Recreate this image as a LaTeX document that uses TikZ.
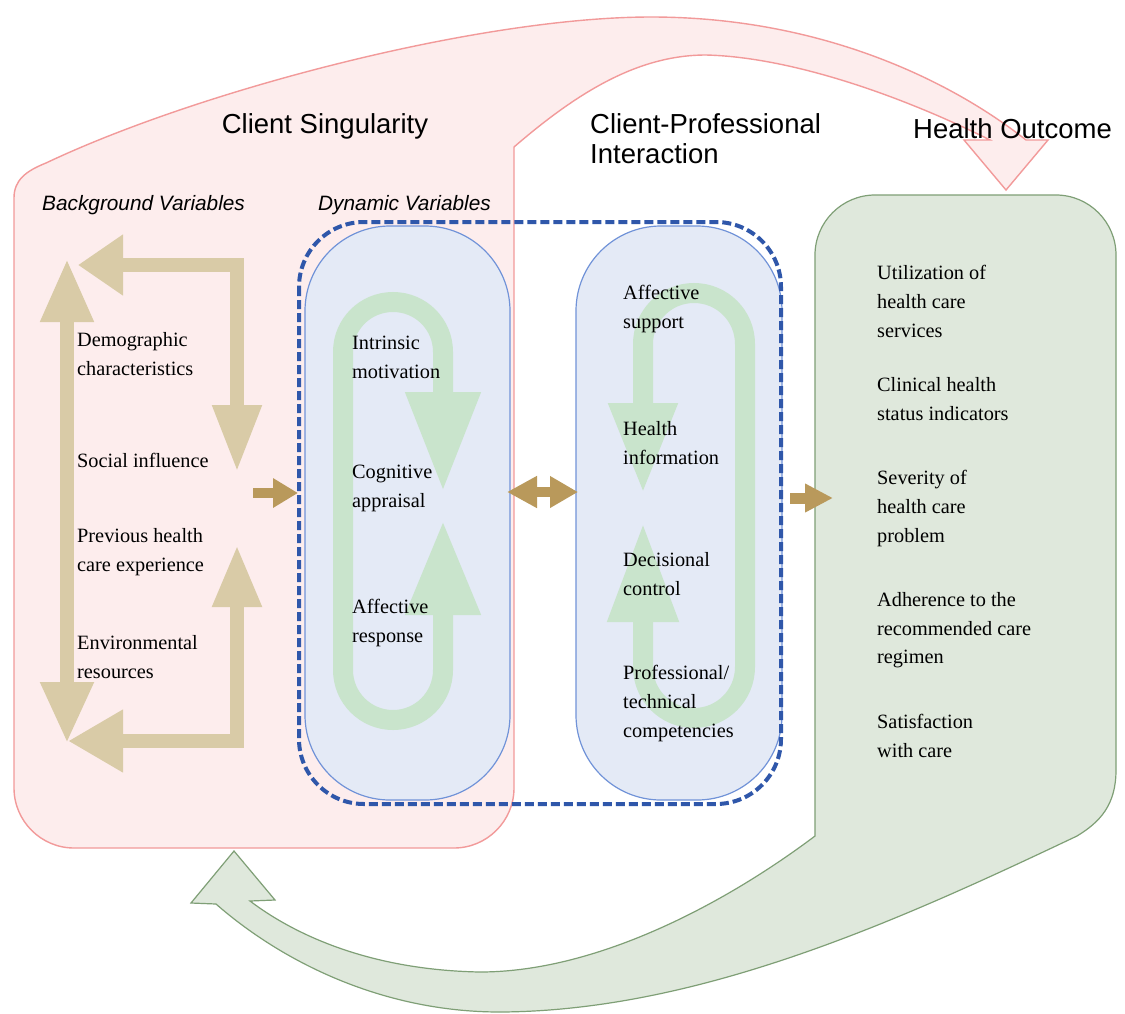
\documentclass[tikz,border=0pt]{standalone}
\usepackage{fontspec}
\setmainfont{Liberation Serif}
\newfontfamily\headfont{Liberation Sans}
\usetikzlibrary{arrows.meta}
\definecolor{pinkfill}{HTML}{FDEDED}
\definecolor{pinkline}{HTML}{F29A9A}
\definecolor{greenfill}{HTML}{DFE8DC}
\definecolor{greenline}{HTML}{7F9F76}
\definecolor{bluefill}{HTML}{E4EAF6}
\definecolor{blueline}{HTML}{7193D8}
\definecolor{dashblue}{HTML}{2F57AA}
\definecolor{tanlight}{HTML}{D9CBA7}
\definecolor{goldtan}{HTML}{B9995B}
\definecolor{loopgreen}{HTML}{C9E4CC}
\tikzset{
  heading/.style={font=\headfont\fontsize{27.5}{30}\selectfont, align=left, inner sep=0pt},
  subhead/.style={font=\headfont\itshape\fontsize{20.8}{24}\selectfont, inner sep=0pt, anchor=north west},
  item/.style={font=\fontsize{20.3}{28.8}\selectfont, align=left, inner sep=0pt, anchor=north west},
  tanarrow/.style={draw=tanlight, line width=14pt, miter limit=10},
  goldarrow/.style={draw=goldtan, line width=10pt},
  greenloop/.style={draw=loopgreen, line width=20pt},
  bluebox/.style={draw=blueline, fill=bluefill, line width=1.2pt, rounded corners=85pt},
}
\begin{document}
\begin{tikzpicture}[x=1pt,y=-1pt]
\useasboundingbox[fill=white] (0,0) rectangle (1125,1013);

% green outcome region with feedback arrow
\path[draw=greenline, fill=greenfill, line width=1.2pt]
 (815,836) -- (815,255) .. controls (815,222) and (842,195) .. (875,195)
 -- (1056,195) .. controls (1089,195) and (1116,222) .. (1116,255)
 -- (1116,770) .. controls (1116,805) and (1100,822) .. (1077,836)
 .. controls (900,920) and (700,1011) .. (500,1012)
 .. controls (380,1012) and (280,960) .. (216,904)
 -- (191,903) -- (234,851) -- (275,900) -- (250,901)
 .. controls (295,935) and (370,970) .. (480,972)
 .. controls (600,972) and (730,900) .. (815,836) -- cycle;

% pink client singularity region with arrow
\path[draw=pinkline, fill=pinkfill, line width=1.4pt]
 (14,788) -- (14,198) .. controls (14,180) and (26,171) .. (46,163)
 .. controls (200,90) and (480,17) .. (651,17)
 .. controls (820,17) and (950,80) .. (1026,140)
 -- (1048,140) -- (1006,190) -- (964,140) -- (990,140)
 .. controls (900,95) and (790,57) .. (706,55)
 .. controls (640,55) and (580,90) .. (514,147)
 -- (514,788) .. controls (514,821) and (487,848) .. (454,848)
 -- (74,848) .. controls (41,848) and (14,821) .. (14,788) -- cycle;

% blue boxes
\draw[bluebox] (305,226) rectangle (510,800);
\draw[bluebox] (576,226) rectangle (782,800);
\draw[draw=dashblue, line width=4pt, dash pattern=on 9pt off 4pt, rounded corners=65pt] (299,222) rectangle (781,804);

% green loops
\coordinate (la) at (443,492);
\coordinate (lb) at (443,520);
\draw[greenloop, {Triangle[width=70pt,length=100pt]}-{Triangle[width=70pt,length=95pt]}]
 (la) -- (443,352) .. controls (443,324) and (420.6,302) .. (393,302)
 .. controls (365.4,302) and (343,324) .. (343,352) -- (343,670)
 .. controls (343,697.6) and (365.4,720) .. (393,720)
 .. controls (420.6,720) and (443,697.6) .. (443,670) -- (lb);
\coordinate (ra) at (643,494);
\coordinate (rb) at (643,522);
\draw[greenloop, {Triangle[width=64pt,length=91pt]}-{Triangle[width=66pt,length=100pt]}]
 (ra) -- (643,344) .. controls (643,315.8) and (665.8,293) .. (694,293)
 .. controls (722.2,293) and (745,315.8) .. (745,344) -- (745,667)
 .. controls (745,695.2) and (722.2,718) .. (694,718)
 .. controls (665.8,718) and (643,695.2) .. (643,667) -- (rb);

% tan arrows (background variables)
\coordinate (t1a) at (78,265);
\coordinate (t1b) at (237,472);
\draw[tanarrow, {Triangle[width=58pt,length=45pt]}-{Triangle[width=46pt,length=67pt]}] (t1a) -- (237,265) -- (t1b);
\coordinate (t2a) at (237,545);
\coordinate (t2b) at (68,741);
\draw[tanarrow, {Triangle[width=46pt,length=62pt]}-{Triangle[width=59pt,length=55pt]}] (t2a) -- (237,741) -- (t2b);
\coordinate (t3a) at (67,259);
\coordinate (t3b) at (67,743);
\draw[tanarrow, {Triangle[width=50pt,length=63pt]}-{Triangle[width=50pt,length=61pt]}] (t3a) -- (t3b);

% gold arrows
\coordinate (g1a) at (253,493);
\coordinate (g1b) at (298,493);
\draw[goldarrow, -{Triangle[width=28pt,length=25pt]}] (g1a) -- (g1b);
\coordinate (g2a) at (507,492);
\coordinate (g2b) at (578,492);
\draw[goldarrow, {Triangle[width=30pt,length=30pt]}-{Triangle[width=30pt,length=28pt]}] (g2a) -- (g2b);
\coordinate (g3a) at (790,498);
\coordinate (g3b) at (833,498);
\draw[goldarrow, line width=11pt, -{Triangle[width=27pt,length=28pt]}] (g3a) -- (g3b);

% headings
\node[heading] (hcs) at (325,126) {Client Singularity};
\node[heading, anchor=north west] (hcp) at (590,113) {Client-Professional\\Interaction};
\node[heading, anchor=north west] (hho) at (913,118) {Health Outcome};
\node[subhead] (sbv) at (42,195) {Background Variables};
\node[subhead] (sdv) at (318,195) {Dynamic Variables};

% background variables
\node[item] (b1) at (77,332) {Demographic\\characteristics};
\node[item] (b2) at (77,453) {Social influence};
\node[item] (b3) at (77,528) {Previous health\\care experience};
\node[item] (b4) at (77,635) {Environmental\\resources};

% dynamic variables
\node[item] (d1) at (352,336) {Intrinsic\\motivation};
\node[item] (d2) at (352,465) {Cognitive\\appraisal};
\node[item] (d3) at (352,599) {Affective\\response};

% client-professional interaction
\node[item] (c1) at (623,285) {Affective\\support};
\node[item] (c2) at (623,421) {Health\\information};
\node[item] (c3) at (623,552) {Decisional\\control};
\node[item] (c4) at (623,665) {Professional/\\technical\\competencies};

% health outcome
\node[item] (o1) at (877,265) {Utilization of\\health care\\services};
\node[item] (o2) at (877,377) {Clinical health\\status indicators};
\node[item] (o3) at (877,470) {Severity of\\health care\\problem};
\node[item] (o4) at (877,592) {Adherence to the\\recommended care\\regimen};
\node[item] (o5) at (877,714) {Satisfaction\\with care};
\end{tikzpicture}
\end{document}
